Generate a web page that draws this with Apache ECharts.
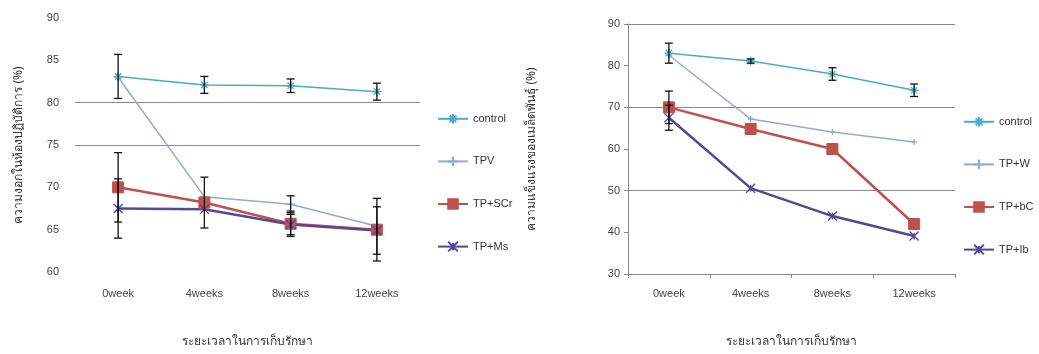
<!DOCTYPE html>
<html>
<head>
<meta charset="utf-8">
<script src="https://cdn.jsdelivr.net/npm/echarts@6/dist/echarts.min.js"></script>
<style>
  html, body { margin: 0; padding: 0; background: #ffffff; }
  #chart { width: 1039px; height: 354px; }
</style>
</head>
<body>
<div id="chart"></div>
<script>
// Storage periods shared by both panels
const categories = ['0week', '4weeks', '8weeks', '12weeks'];

// Left panel: means and error-bar half widths
const leftNames = ['control', 'TPV', 'TP+SCr', 'TP+Ms'];
const leftControl = [83.1, 82.1, 82.0, 81.3];
const leftControlErr = [2.6, 1.0, 0.8, 1.0];
const leftTPV = [83.0, 68.9, 68.0, 65.4];
const leftTPVErr = [0, 0, 1.0, 0];
const leftSCr = [70.0, 68.2, 65.7, 65.0];
const leftSCrErr = [4.1, 3.0, 1.5, 3.7];
const leftMs = [67.5, 67.4, 65.6, 64.9];
const leftMsErr = [3.5, 0, 1.2, 2.8];

// Right panel: means and error-bar half widths
const rightNames = ['control', 'TP+W', 'TP+bC', 'TP+Ib'];
const rightControl = [83.0, 81.1, 78.0, 74.1];
const rightControlErr = [2.4, 0.5, 1.5, 1.5];
const rightW = [82.5, 67.2, 64.1, 61.7];
const rightWErr = [0, 0, 0, 0];
const rightBC = [70.0, 64.8, 60.0, 42.0];
const rightBCErr = [3.9, 0, 0, 0];
const rightIb = [67.5, 50.6, 43.9, 39.1];
const rightIbErr = [3.0, 0, 0, 0];

// Axis tick labels
const leftTicks = [60, 65, 70, 75, 80, 85, 90];
const rightTicks = [30, 40, 50, 60, 70, 80, 90];

const leftYTitle = 'ความงอกในห้องปฏิบัติการ (%)';
const rightYTitle = 'ความแข็งแรงของเมล็ดพันธุ์ (%)';
const leftXTitle = 'ระยะเวลาในการเก็บรักษา';
const rightXTitle = 'ระยะเวลาในการเก็บรักษา';

const colors = {
  control: '#4BACC6',
  light: '#93A9D2',
  red: '#C0504D',
  purple: '#55479A'
};

const ASTERISK = 'path://M0,5L10,5M5,0L5,10M1.5,1.5L8.5,8.5M8.5,1.5L1.5,8.5';
const PLUS = 'path://M0,5L10,5M5,0L5,10';
const CROSS = 'path://M1,1L9,9M9,1L1,9M5,2L5,8';

const FONT = '"Liberation Sans", Arial, sans-serif';

function lineSeries(name, data, color, width, symbol, size, axis, fill) {
  return {
    name: name,
    type: 'line',
    xAxisIndex: axis,
    yAxisIndex: axis,
    data: data,
    symbol: symbol,
    symbolSize: size,
    showSymbol: true,
    lineStyle: { color: color, width: width },
    itemStyle: fill
      ? { color: color, borderColor: color, borderWidth: 1 }
      : { color: color, borderColor: color, borderWidth: 1.3 },
    emphasis: { disabled: true },
    animation: false,
    z: 3
  };
}

function errorSeries(means, errs, axis) {
  const data = [];
  means.forEach(function (m, i) {
    if (errs[i] > 0) data.push([i, m, errs[i]]);
  });
  return {
    type: 'custom',
    xAxisIndex: axis,
    yAxisIndex: axis,
    data: data,
    silent: true,
    animation: false,
    z: 5,
    renderItem: function (params, api) {
      const i = api.value(0), m = api.value(1), e = api.value(2);
      const top = api.coord([i, m + e]);
      const bot = api.coord([i, m - e]);
      const cap = 4;
      const style = { stroke: '#111', lineWidth: 1.3 };
      return {
        type: 'group',
        children: [
          { type: 'line', shape: { x1: top[0], y1: top[1], x2: bot[0], y2: bot[1] }, style: style },
          { type: 'line', shape: { x1: top[0] - cap, y1: top[1], x2: top[0] + cap, y2: top[1] }, style: style },
          { type: 'line', shape: { x1: bot[0] - cap, y1: bot[1], x2: bot[0] + cap, y2: bot[1] }, style: style }
        ]
      };
    }
  };
}

const axisLabelStyle = { color: '#444', fontSize: 11, fontFamily: FONT };
const legendText = { color: '#333', fontSize: 11, fontFamily: FONT };
const titleText = { color: '#333', fontSize: 12, fontFamily: '"Noto Sans", sans-serif' };

const chart = echarts.init(document.getElementById('chart'), null, { renderer: 'canvas' });

chart.setOption({
  backgroundColor: '#ffffff',
  animation: false,
  grid: [
    { left: 75, top: 18, width: 345, height: 254 },
    { left: 628, top: 24, width: 327, height: 250 }
  ],
  xAxis: [
    {
      type: 'category', gridIndex: 0, data: categories, boundaryGap: true,
      axisLine: { show: false }, axisTick: { show: false },
      axisLabel: Object.assign({ margin: 16 }, axisLabelStyle),
      name: leftXTitle, nameLocation: 'middle', nameGap: 64,
      nameTextStyle: titleText
    },
    {
      type: 'category', gridIndex: 1, data: categories, boundaryGap: true,
      axisLine: { show: true, lineStyle: { color: '#888', width: 1 } },
      axisTick: { show: true, length: 4, lineStyle: { color: '#888' } },
      axisLabel: Object.assign({ margin: 14 }, axisLabelStyle),
      name: rightXTitle, nameLocation: 'middle', nameGap: 62,
      nameTextStyle: titleText
    }
  ],
  yAxis: [
    {
      type: 'value', gridIndex: 0,
      min: leftTicks[0], max: leftTicks[leftTicks.length - 1], interval: 5,
      axisLine: { show: false }, axisTick: { show: false },
      axisLabel: Object.assign({ margin: 16 }, axisLabelStyle),
      splitLine: {
        show: true,
        lineStyle: {
          color: ['rgba(0,0,0,0)', 'rgba(0,0,0,0)', 'rgba(0,0,0,0)', '#8a8a8a', '#8a8a8a', 'rgba(0,0,0,0)', 'rgba(0,0,0,0)'],
          width: 1
        }
      },
      name: leftYTitle, nameLocation: 'middle', nameGap: 50, nameRotate: 90,
      nameTextStyle: titleText
    },
    {
      type: 'value', gridIndex: 1,
      min: rightTicks[0], max: rightTicks[rightTicks.length - 1], interval: 10,
      axisLine: { show: true, lineStyle: { color: '#888', width: 1 } },
      axisTick: { show: true, length: 4, lineStyle: { color: '#888' } },
      axisLabel: Object.assign({ margin: 8 }, axisLabelStyle),
      splitLine: {
        show: true,
        lineStyle: {
          color: ['rgba(0,0,0,0)', 'rgba(0,0,0,0)', '#8a8a8a', 'rgba(0,0,0,0)', '#8a8a8a', 'rgba(0,0,0,0)', '#8a8a8a'],
          width: 1
        }
      },
      name: rightYTitle, nameLocation: 'middle', nameGap: 90, nameRotate: 90,
      nameTextStyle: titleText
    }
  ],
  legend: [
    {
      data: leftNames, orient: 'vertical', left: 432, top: 108,
      itemWidth: 30, itemHeight: 12, itemGap: 31,
      textStyle: legendText, selectedMode: false
    },
    {
      data: ['control '].concat(rightNames.slice(1)), orient: 'vertical', left: 958, top: 111,
      itemWidth: 30, itemHeight: 12, itemGap: 31,
      textStyle: legendText, selectedMode: false
    }
  ],
  series: [
    lineSeries(leftNames[0], leftControl, colors.control, 1.5, ASTERISK, 9, 0, false),
    lineSeries(leftNames[1], leftTPV, colors.light, 1.5, PLUS, 9, 0, false),
    lineSeries(leftNames[2], leftSCr, colors.red, 2.5, 'rect', 11, 0, true),
    lineSeries(leftNames[3], leftMs, colors.purple, 2.5, CROSS, 9, 0, false),
    errorSeries(leftControl, leftControlErr, 0),
    errorSeries(leftTPV, leftTPVErr, 0),
    errorSeries(leftSCr, leftSCrErr, 0),
    errorSeries(leftMs, leftMsErr, 0),

    lineSeries(rightNames[0] + ' ', rightControl, colors.control, 1.5, ASTERISK, 9, 1, false),
    lineSeries(rightNames[1], rightW, colors.light, 1.5, PLUS, 6, 1, false),
    lineSeries(rightNames[2], rightBC, colors.red, 2.5, 'rect', 11, 1, true),
    lineSeries(rightNames[3], rightIb, colors.purple, 2.5, CROSS, 9, 1, false),
    errorSeries(rightControl, rightControlErr, 1),
    errorSeries(rightW, rightWErr, 1),
    errorSeries(rightBC, rightBCErr, 1),
    errorSeries(rightIb, rightIbErr, 1)
  ]
});
</script>
</body>
</html>
